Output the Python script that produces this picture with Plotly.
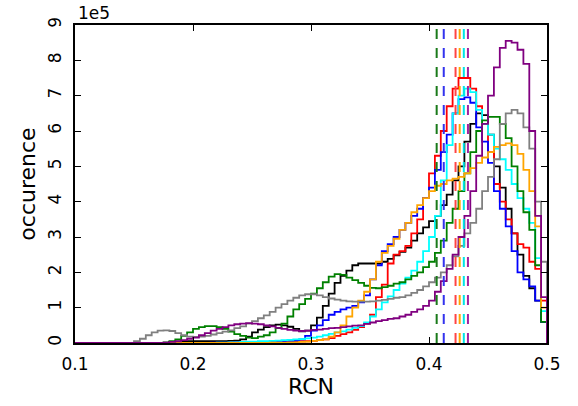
import numpy as np
import plotly.graph_objects as go

BIN_START = 0.10
BIN_WIDTH = 0.005
N_BINS = 80
SCALE_LABEL = "1e5"

# occurrence per bin, in units of 1e5 (bins start at 0.100, step 0.005)
black = [0]*10 + [
    0, 0, 0, 0, 0, 0.02, 0.03, 0.04, 0.05, 0.05,
    0.05, 0.05, 0.05, 0.05, 0.05, 0.05, 0.06, 0.07, 0.10, 0.18,
    0.30, 0.38, 0.45, 0.50, 0.52, 0.50, 0.46, 0.40, 0.33, 0.35,
    0.50, 0.72, 1.05, 1.40, 1.70, 1.90, 2.05, 2.20, 2.25, 2.25,
    2.25, 2.25, 2.30, 2.38, 2.48, 2.58, 2.70, 2.90, 3.10, 3.27,
    3.45, 3.60, 3.90, 4.20, 4.60, 5.00, 5.70, 6.20, 6.50, 6.45,
    5.90, 5.00, 4.40, 3.80, 3.10, 2.50, 1.90, 1.55, 1.20, 0.60]
red = [0]*20 + [
    0, 0, 0, 0, 0, 0, 0.01, 0.01, 0.02, 0.02,
    0.02, 0.02, 0.03, 0.03, 0.03, 0.04, 0.04, 0.05, 0.05, 0.05,
    0.06, 0.08, 0.10, 0.14, 0.20, 0.25, 0.30, 0.37, 0.45, 0.55,
    0.80, 1.30, 1.65, 2.25, 2.50, 2.60, 2.75, 3.10, 3.50, 4.10,
    4.80, 5.30, 6.00, 6.70, 7.20, 7.50, 7.50, 7.20, 6.70, 6.20,
    5.40, 4.50, 4.00, 3.50, 3.10, 2.80, 2.70, 2.30, 2.10, 1.20]
blue = [0]*20 + [
    0, 0, 0, 0.01, 0.01, 0.01, 0.01, 0.02, 0.02, 0.02,
    0.02, 0.03, 0.03, 0.04, 0.04, 0.05, 0.05, 0.07, 0.10, 0.20,
    0.35, 0.50, 0.65, 0.80, 0.88, 0.95, 1.00, 1.05, 1.15, 1.35,
    1.80, 2.20, 2.60, 2.80, 3.00, 3.20, 3.40, 3.60, 3.80, 4.10,
    4.40, 4.90, 5.40, 5.90, 6.50, 6.90, 6.95, 6.80, 6.10, 5.70,
    5.10, 4.30, 3.80, 3.30, 2.60, 2.00, 1.80, 1.60, 1.20, 0.60]
cyan = [0]*20 + [
    0, 0, 0, 0, 0.01, 0.01, 0.02, 0.02, 0.03, 0.04,
    0.04, 0.05, 0.05, 0.06, 0.07, 0.08, 0.09, 0.10, 0.11, 0.13,
    0.15, 0.18, 0.22, 0.26, 0.30, 0.33, 0.38, 0.43, 0.48, 0.58,
    0.75, 0.95, 1.15, 1.32, 1.50, 1.68, 1.85, 2.05, 2.30, 2.60,
    3.00, 3.60, 4.60, 5.60, 6.50, 7.00, 7.20, 7.10, 6.60, 6.20,
    5.90, 5.50, 5.20, 4.90, 4.50, 4.10, 3.80, 3.40, 2.40, 0.90]
green = [0]*10 + [
    0, 0, 0, 0, 0, 0, 0.05, 0.10, 0.20, 0.30,
    0.40, 0.45, 0.48, 0.48, 0.45, 0.40, 0.32, 0.25, 0.20, 0.15,
    0.14, 0.18, 0.22, 0.30, 0.42, 0.55, 0.75, 0.95, 1.10, 1.25,
    1.40, 1.55, 1.72, 1.88, 1.95, 1.93, 1.85, 1.78, 1.70, 1.62,
    1.56, 1.55, 1.58, 1.62, 1.68, 1.72, 1.80, 1.90, 2.00, 2.15,
    2.30, 2.55, 2.90, 3.40, 3.80, 4.30, 4.80, 5.40, 6.00, 6.30,
    6.40, 6.40, 6.20, 5.80, 5.00, 4.30, 3.70, 3.20, 2.20, 0.60]
orange = [0]*30 + [
    0, 0, 0, 0.01, 0.01, 0.01, 0.02, 0.02, 0.03, 0.04,
    0.06, 0.08, 0.10, 0.18, 0.30, 0.50, 0.75, 1.00, 1.20, 1.45,
    1.80, 2.30, 2.55, 2.75, 2.95, 3.20, 3.40, 3.70, 3.90, 4.10,
    4.30, 4.45, 4.50, 4.60, 4.65, 4.70, 4.80, 4.95, 5.10, 5.25,
    5.40, 5.55, 5.60, 5.65, 5.60, 5.35, 4.90, 4.30, 3.30, 1.00]
gray = [0]*10 + [
    0.05, 0.12, 0.22, 0.30, 0.35, 0.36, 0.34, 0.28, 0.22, 0.18,
    0.17, 0.18, 0.20, 0.24, 0.28, 0.32, 0.36, 0.42, 0.47, 0.55,
    0.62, 0.70, 0.78, 0.88, 1.00, 1.10, 1.20, 1.28, 1.35, 1.38,
    1.38, 1.35, 1.30, 1.26, 1.23, 1.20, 1.18, 1.17, 1.17, 1.17,
    1.18, 1.20, 1.22, 1.25, 1.28, 1.30, 1.35, 1.42, 1.50, 1.60,
    1.72, 1.85, 2.00, 2.20, 2.45, 2.75, 3.10, 3.40, 3.80, 4.30,
    4.70, 5.20, 6.20, 6.50, 6.60, 6.50, 6.10, 5.50, 4.00, 2.30]
purple = [0]*10 + [
    0, 0, 0, 0, 0, 0, 0.03, 0.05, 0.08, 0.12,
    0.15, 0.22, 0.28, 0.35, 0.40, 0.45, 0.50, 0.53, 0.55, 0.56,
    0.55, 0.53, 0.50, 0.47, 0.43, 0.40, 0.37, 0.35, 0.34, 0.35,
    0.37, 0.38, 0.40, 0.42, 0.43, 0.45, 0.47, 0.49, 0.50, 0.54,
    0.58, 0.62, 0.65, 0.68, 0.70, 0.75, 0.80, 0.88, 0.95, 1.05,
    1.20, 1.45, 1.75, 2.10, 2.50, 3.00, 3.60, 4.30, 5.30, 6.20,
    7.00, 7.80, 8.35, 8.55, 8.50, 8.30, 7.90, 6.00, 3.60, 1.30]

series_names = ["black", "red", "blue", "cyan", "green", "orange", "gray", "purple"]
series_values = [black, red, blue, cyan, green, orange, gray, purple]
series_colors = ["#000000", "#ff0000", "#0000ff", "#00ffff", "#008000", "#ffa500", "#808080", "#800080"]

# mean RCN markers (dashed lines)
mean_names = ["green", "blue", "red", "orange", "cyan", "purple"]
mean_values = [0.4065, 0.4125, 0.4225, 0.426, 0.4295, 0.433]
mean_colors = ["#1a7a1a", "#3333ee", "#ff4444", "#ffa500", "#00e5e5", "#a020a0"]

x_ticks = [0.1, 0.2, 0.3, 0.4, 0.5]
y_ticks = list(range(0, 10))

edges = BIN_START + BIN_WIDTH * np.arange(N_BINS + 1)

fig = go.Figure()
for name, vals, col in zip(series_names, series_values, series_colors):
    v = np.asarray(vals, dtype=float)
    xs = np.concatenate([[edges[0]], edges, [edges[-1]]])
    ys = np.concatenate([[0.0], v, [v[-1]], [0.0]])
    fig.add_trace(go.Scatter(x=xs, y=ys, mode="lines", name=name,
                             line=dict(color=col, width=1.8, shape="hv"),
                             showlegend=False, hoverinfo="skip"))

for name, m, col in zip(mean_names, mean_values, mean_colors):
    fig.add_trace(go.Scatter(x=[m, m], y=[0, 9], mode="lines", name=name + " mean",
                             line=dict(color=col, width=2, dash="10px,9px"),
                             showlegend=False, hoverinfo="skip"))

font = "DejaVu Sans, Liberation Sans, sans-serif"
fig.update_layout(
    width=578, height=406,
    margin=dict(l=75, r=31, t=25, b=59),
    paper_bgcolor="white", plot_bgcolor="white",
    font=dict(family=font, size=17, color="black"),
    xaxis=dict(range=[0.1, 0.5], tickvals=x_ticks, ticktext=[f"{t:.1f}" for t in x_ticks],
               ticks="inside", ticklen=6, tickwidth=1, tickcolor="black",
               ticklabelstandoff=5,
               showline=True, linecolor="black", linewidth=1.5, mirror="allticks",
               showgrid=False, zeroline=False,
               title=dict(text="RCN", font=dict(size=22), standoff=4)),
    yaxis=dict(range=[0, 9], tickvals=y_ticks, ticktext=[str(t) for t in y_ticks],
               tickangle=-90,
               ticks="inside", ticklen=6, tickwidth=1, tickcolor="black",
               ticklabelstandoff=5,
               showline=True, linecolor="black", linewidth=1.5, mirror="allticks",
               showgrid=False, zeroline=False,
               title=dict(text="occurence", font=dict(size=22), standoff=4)),
    annotations=[dict(text=SCALE_LABEL, xref="paper", yref="paper", x=0, y=1,
                      xanchor="left", yanchor="bottom", showarrow=False,
                      font=dict(size=17), xshift=1, yshift=0)],
)

fig.write_html("out.html")
